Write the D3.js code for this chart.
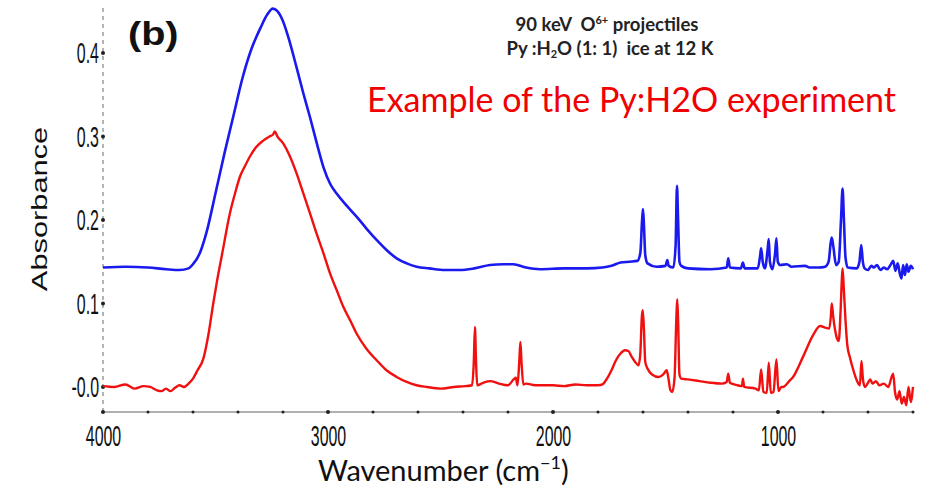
<!DOCTYPE html>
<html>
<head>
<meta charset="utf-8">
<script src="https://cdn.jsdelivr.net/npm/d3@7"></script>
<style>
  body { margin: 0; background: #fff; }
  svg { display: block; }
</style>
</head>
<body>
<svg id="chart"></svg>
<script>
// spectra: [wavenumber cm-1, absorbance]
const blueSpectrum = [
  [4000,0.143],[3900,0.144],[3800,0.143],[3720,0.141],[3660,0.140],[3620,0.142],
  [3600,0.147],[3570,0.160],[3540,0.185],[3500,0.232],[3460,0.280],[3420,0.325],
  [3380,0.370],[3340,0.405],[3300,0.430],[3270,0.446],[3245,0.453],[3225,0.450],
  [3200,0.438],[3170,0.413],[3140,0.383],[3110,0.352],[3080,0.323],[3050,0.292],
  [3020,0.263],[2990,0.243],[2960,0.231],[2920,0.218],[2873,0.204],[2830,0.190],
  [2784,0.176],[2740,0.164],[2695,0.154],[2650,0.148],[2606,0.144],[2550,0.142],
  [2480,0.140],[2413,0.140],[2350,0.142],[2280,0.146],[2220,0.147],[2176,0.147],
  [2120,0.143],[2058,0.141],[1950,0.142],[1850,0.142],[1780,0.143],[1740,0.145],
  [1700,0.149],[1660,0.150],[1625,0.151],[1612,0.160],[1604,0.200],[1600,0.213],
  [1596,0.195],[1590,0.158],[1580,0.148],[1540,0.144],[1500,0.145],[1492,0.152],
  [1486,0.145],[1465,0.143],[1455,0.170],[1449,0.241],[1444,0.200],[1438,0.150],
  [1430,0.145],[1400,0.142],[1300,0.141],[1228,0.143],[1221,0.154],[1214,0.143],
  [1165,0.142],[1156,0.149],[1148,0.142],[1090,0.142],[1080,0.156],[1075,0.166],
  [1068,0.150],[1058,0.142],[1046,0.165],[1041,0.177],[1036,0.150],[1025,0.141],
  [1013,0.160],[1007,0.178],[1001,0.150],[990,0.146],[960,0.147],[940,0.144],
  [880,0.145],[860,0.143],[820,0.143],[790,0.144],[775,0.150],[766,0.172],
  [761,0.179],[754,0.168],[742,0.146],[730,0.150],[720,0.200],[713,0.2375],
  [707,0.200],[700,0.155],[690,0.143],[650,0.142],[638,0.150],[630,0.170],
  [623,0.150],[615,0.142],[600,0.140],[585,0.145],[575,0.143],[560,0.146],
  [545,0.140],[530,0.143],[515,0.141],[500,0.146],[488,0.151],[478,0.139],
  [468,0.148],[458,0.135],[451,0.130],[444,0.146],[436,0.134],[428,0.147],
  [420,0.138],[410,0.145],[400,0.141]
];

const redSpectrum = [
  [4000,0.001],[3950,0.000],[3900,0.003],[3860,-0.002],[3820,0.001],[3790,0.000],
  [3760,-0.004],[3740,-0.005],[3720,-0.002],[3700,-0.005],[3680,-0.001],[3660,0.002],
  [3640,0.000],[3620,0.004],[3600,0.010],[3580,0.020],[3554,0.034],[3530,0.065],
  [3510,0.100],[3495,0.124],[3470,0.160],[3436,0.208],[3410,0.235],[3391,0.252],
  [3370,0.264],[3347,0.276],[3320,0.287],[3288,0.295],[3260,0.300],[3245,0.302],
  [3236,0.306],[3225,0.300],[3200,0.292],[3169,0.276],[3140,0.256],[3110,0.232],
  [3080,0.208],[3051,0.184],[3020,0.160],[2991,0.136],[2960,0.115],[2932,0.096],
  [2900,0.079],[2873,0.064],[2830,0.046],[2784,0.032],[2740,0.020],[2695,0.012],
  [2650,0.006],[2606,0.002],[2560,0.000],[2500,-0.002],[2440,0.000],[2390,0.001],
  [2360,0.002],[2352,0.030],[2347,0.072],[2342,0.030],[2337,0.002],[2310,0.005],
  [2280,0.007],[2240,0.004],[2200,0.002],[2175,0.009],[2165,0.011],[2158,0.002],
  [2150,0.030],[2145,0.054],[2140,0.030],[2132,0.003],[2120,0.004],[2080,0.002],
  [2000,0.002],[1950,0.001],[1900,0.003],[1850,0.002],[1800,0.002],[1780,0.003],
  [1760,0.010],[1740,0.020],[1720,0.032],[1700,0.040],[1680,0.044],[1665,0.043],
  [1650,0.036],[1635,0.030],[1620,0.026],[1612,0.040],[1605,0.085],[1601,0.092],
  [1596,0.070],[1590,0.030],[1580,0.022],[1560,0.015],[1530,0.012],[1510,0.015],
  [1495,0.020],[1488,0.012],[1478,-0.004],[1470,-0.006],[1460,0.010],[1452,0.080],
  [1448,0.105],[1444,0.080],[1438,0.015],[1430,0.010],[1400,0.009],[1350,0.007],
  [1300,0.005],[1250,0.004],[1228,0.006],[1221,0.016],[1214,0.005],[1180,0.002],
  [1160,0.001],[1156,0.010],[1150,0.000],[1100,-0.002],[1085,-0.004],[1075,0.021],
  [1065,-0.006],[1050,-0.007],[1041,0.029],[1032,-0.007],[1020,-0.006],[1007,0.033],
  [998,-0.005],[985,0.000],[978,0.000],[950,0.007],[933,0.012],[889,0.036],
  [844,0.062],[813,0.073],[790,0.071],[772,0.070],[765,0.085],[761,0.100],
  [755,0.085],[740,0.060],[730,0.055],[722,0.090],[716,0.130],[713,0.142],
  [708,0.120],[700,0.080],[692,0.050],[680,0.035],[665,0.020],[650,0.008],
  [636,0.002],[629,0.031],[622,0.008],[613,0.000],[600,0.005],[590,0.009],
  [580,0.004],[565,0.007],[550,0.002],[530,0.004],[510,0.000],[495,0.012],
  [488,0.016],[480,-0.006],[470,-0.015],[460,-0.005],[450,-0.020],[440,-0.012],
  [430,-0.022],[420,0.000],[410,-0.018],[400,0.000]
];

const xMajorTicks = [4000, 3000, 2000, 1000];
const yMajorTicks = [0.4, 0.3, 0.2, 0.1, 0.0];
const yTickLabels = ["0.4", "0.3", "0.2", "0.1", "-0.0"];
const titleLines = ["90 keV  O", "Py :H", "O (1: 1)  ice at 12 K"];
const noteText = "Example of the Py:H2O experiment";

const width = 935, height = 504;
const svg = d3.select('#chart').attr('width', width).attr('height', height);

const x = d3.scaleLinear().domain([4000, 400]).range([103, 913]);
const y = d3.scaleLinear().domain([-0.03, 0.455]).range([412, 7]);

// axes lines
svg.append('line')
  .attr('x1', x(4000)).attr('x2', x(400))
  .attr('y1', y(-0.03)).attr('y2', y(-0.03))
  .style('stroke', '#b0b0b0').style('stroke-width', 2);

svg.append('line')
  .attr('x1', x(4000)).attr('x2', x(4000))
  .attr('y1', y(-0.03)).attr('y2', y(0.455))
  .style('stroke', '#9a9a9a').style('stroke-width', 1.5)
  .style('stroke-dasharray', '4,4');

// x tick dots every 200
svg.append('g').selectAll('circle')
  .data(d3.range(4000, 399, -200))
  .join('circle')
  .attr('cx', d => x(d)).attr('cy', y(-0.03))
  .attr('r', d => d % 1000 === 0 ? 2 : 1.5)
  .attr('fill', '#222');

// y tick dots
svg.append('g').selectAll('circle')
  .data(yMajorTicks)
  .join('circle')
  .attr('cx', x(4000)).attr('cy', d => y(d))
  .attr('r', 2)
  .attr('fill', '#222');

// tick labels (narrow, tall as in the original figure)
const xAxis = d3.axisBottom(x).tickValues(xMajorTicks).tickSize(0).tickPadding(0)
  .tickFormat(d3.format('d'));
const gx = svg.append('g').attr('transform', `translate(0,${y(-0.03)})`).call(xAxis);
gx.select('.domain').remove();
gx.selectAll('text')
  .attr('y', 0).attr('dy', 0)
  .style('font-family', '"Liberation Sans", Arial, sans-serif')
  .style('font-size', '29px')
  .style('fill', '#111')
  .attr('transform', 'translate(0,34) scale(0.55,1)');

const yAxis = d3.axisLeft(y).tickValues(yMajorTicks).tickSize(0).tickPadding(0)
  .tickFormat((d, i) => yTickLabels[i]);
const gy = svg.append('g').attr('transform', `translate(${x(4000)},0)`).call(yAxis);
gy.select('.domain').remove();
gy.selectAll('text')
  .attr('x', 0).attr('dy', 0)
  .style('font-family', '"Liberation Sans", Arial, sans-serif')
  .style('font-size', '29px')
  .style('fill', '#111')
  .attr('transform', 'translate(-4,10) scale(0.55,1)');

// spectra
const line = d3.line()
  .x(d => x(d[0]))
  .y(d => y(d[1]))
  .curve(d3.curveMonotoneX);

svg.append('path')
  .datum(redSpectrum)
  .attr('d', line)
  .style('fill', 'none')
  .style('stroke', '#f01010')
  .style('stroke-width', 2.4)
  .style('stroke-linejoin', 'round');

svg.append('path')
  .datum(blueSpectrum)
  .attr('d', line)
  .style('fill', 'none')
  .style('stroke', '#1a1aee')
  .style('stroke-width', 2.6)
  .style('stroke-linejoin', 'round');

// axis titles
svg.append('text')
  .attr('transform', 'translate(47,209) rotate(-90) scale(1.4,1)')
  .attr('text-anchor', 'middle')
  .style('font-family', '"Liberation Sans", Arial, sans-serif')
  .style('font-size', '22px')
  .style('fill', '#111')
  .text('Absorbance');

const xt = svg.append('text')
  .attr('x', 318).attr('y', 481)
  .style('font-family', 'Lato, "Open Sans", sans-serif')
  .style('font-size', '29px')
  .style('fill', '#111');
xt.append('tspan').text('Wavenumber (cm');
xt.append('tspan').attr('dy', -12).style('font-size', '18px').text('\u22121');
xt.append('tspan').attr('dy', 12).text(')');

// panel label
svg.append('text')
  .attr('transform', 'translate(128,45) scale(1.2,1)')
  .style('font-family', '"Liberation Sans", Arial, sans-serif')
  .style('font-weight', 'bold')
  .style('font-size', '33px')
  .style('fill', '#111')
  .text('(b)');

// conditions
const t1 = svg.append('text')
  .attr('x', 607).attr('y', 31)
  .attr('text-anchor', 'middle')
  .style('white-space', 'pre')
  .style('font-family', 'Lato, "Open Sans", sans-serif')
  .style('font-weight', 'bold')
  .style('font-size', '18.5px')
  .style('fill', '#222');
t1.append('tspan').text(titleLines[0]);
t1.append('tspan').attr('dy', -7).style('font-size', '11px').text('6+');
t1.append('tspan').attr('dy', 7).text(' projectiles');

const t2 = svg.append('text')
  .attr('x', 610).attr('y', 55)
  .attr('text-anchor', 'middle')
  .style('white-space', 'pre')
  .style('font-family', 'Lato, "Open Sans", sans-serif')
  .style('font-weight', 'bold')
  .style('font-size', '18.5px')
  .style('fill', '#222');
t2.append('tspan').text(titleLines[1]);
t2.append('tspan').attr('dy', 3).style('font-size', '11px').text('2');
t2.append('tspan').attr('dy', -3).text(titleLines[2]);

svg.append('text')
  .attr('x', 367).attr('y', 112)
  .style('font-family', 'Lato, "Open Sans", sans-serif')
  .style('font-size', '34px')
  .style('fill', '#f00000')
  .text(noteText);
</script>
</body>
</html>
